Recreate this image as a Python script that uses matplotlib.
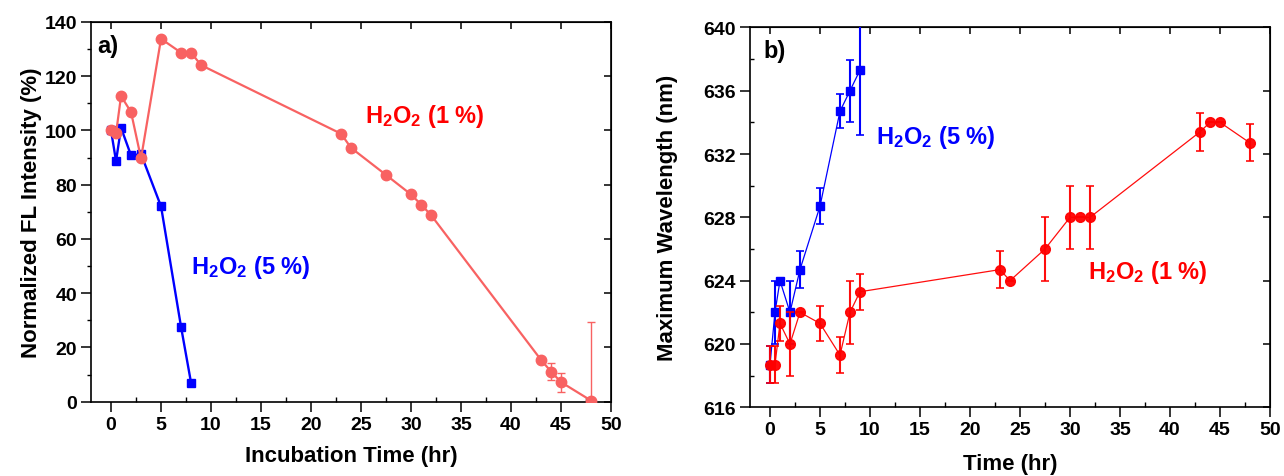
import matplotlib
matplotlib.use("Agg")
import matplotlib.pyplot as plt
from matplotlib.ticker import MultipleLocator

plt.rcParams["font.family"] = ["Liberation Sans", "DejaVu Sans"]
plt.rcParams["font.weight"] = "bold"
plt.rcParams["mathtext.fontset"] = "custom"
plt.rcParams["mathtext.rm"] = "Liberation Sans:bold"
plt.rcParams["mathtext.default"] = "rm"

# Panel a) normalized fluorescence intensity
a_t1 = [0, 0.5, 1, 2, 3, 5, 7, 8, 9, 23, 24, 27.5, 30, 31, 32, 43, 44, 45, 48]
a_y1 = [100, 98.9, 112.7, 106.8, 89.7, 133.8, 128.7, 128.7, 124.1, 98.8, 93.6,
        83.6, 76.4, 72.7, 68.8, 15.4, 11.1, 7.2, 0.4]
a_e1 = [0, 0, 0, 0, 0, 0, 0, 0, 0, 0, 0, 0, 0, 0, 0, 0, 3.0, 3.5, 29.0]
a_t5 = [0, 0.5, 1, 2, 3, 5, 7, 8]
a_y5 = [100, 88.7, 101, 90.8, 91.3, 72, 27.6, 7.0]

# Panel b) maximum emission wavelength
b_t1 = [0, 0.5, 1, 2, 3, 5, 7, 8, 9, 23, 24, 27.5, 30, 31, 32, 43, 44, 45, 48]
b_y1 = [618.7, 618.7, 621.3, 620.0, 622.0, 621.3, 619.3, 622.0, 623.3, 624.7,
        624.0, 626.0, 628.0, 628.0, 628.0, 633.4, 634.0, 634.0, 632.7]
b_e1 = [1.15, 1.15, 1.1, 2.0, 0, 1.1, 1.15, 2.0, 1.15, 1.15,
        0, 2.0, 2.0, 0, 2.0, 1.2, 0, 0, 1.17]
b_t5 = [0, 0.5, 1, 2, 3, 5, 7, 8, 9]
b_y5 = [618.7, 622.0, 624.0, 622.0, 624.7, 628.7, 634.7, 636.0, 637.3]
b_e5 = [1.15, 2.0, 0, 2.0, 1.15, 1.15, 1.07, 1.95, 4.1]

LIGHT_RED = "#f86262"
RED = "#ff0000"
BLUE = "#0000ff"

fig = plt.figure(figsize=(12.84, 4.77), dpi=100)
ax1 = fig.add_axes([0.0709, 0.1558, 0.405, 0.796])
ax2 = fig.add_axes([0.5841, 0.144, 0.405, 0.7965])

ax1.plot(a_t5, a_y5, "-s", color=BLUE, lw=1.7, ms=6, zorder=3)
ax1.errorbar(a_t1, a_y1, yerr=a_e1, fmt="-o", color=LIGHT_RED, lw=1.6, ms=7.5,
             elinewidth=1, capsize=3, capthick=1, zorder=4)
ax1.set_xlim(-2, 50)
ax1.set_ylim(0, 140)
ax1.xaxis.set_major_locator(MultipleLocator(5))
ax1.xaxis.set_minor_locator(MultipleLocator(2.5))
ax1.yaxis.set_major_locator(MultipleLocator(20))
ax1.yaxis.set_minor_locator(MultipleLocator(10))
ax1.set_xlabel("Incubation Time (hr)", fontsize=16, fontweight="bold",
               labelpad=9)
ax1.set_ylabel("Normalized FL Intensity (%)", fontsize=16, fontweight="bold",
               labelpad=2)
ax1.text(0.012, 0.968, "a)", transform=ax1.transAxes, fontsize=17,
         fontweight="bold", va="top")
ax1.text(25.4, 105.5, r"H$_2$O$_2$ (1 %)", color=RED, fontsize=17,
         fontweight="bold", va="center")
ax1.text(8.0, 49.8, r"H$_2$O$_2$ (5 %)", color=BLUE, fontsize=17,
         fontweight="bold", va="center")

ax2.errorbar(b_t5, b_y5, yerr=b_e5, fmt="-s", color=BLUE, lw=0.9, ms=6,
             elinewidth=1.5, capsize=3, capthick=1.2, zorder=3)
ax2.errorbar(b_t1, b_y1, yerr=b_e1, fmt="-o", color=RED, lw=0.9, ms=7,
             elinewidth=1.5, capsize=3, capthick=1.2, alpha=0.95, zorder=4)
ax2.set_xlim(-2, 50)
ax2.set_ylim(616, 640)
ax2.xaxis.set_major_locator(MultipleLocator(5))
ax2.xaxis.set_minor_locator(MultipleLocator(2.5))
ax2.yaxis.set_major_locator(MultipleLocator(4))
ax2.yaxis.set_minor_locator(MultipleLocator(2))
ax2.set_xlabel("Time (hr)", fontsize=16, fontweight="bold", labelpad=11)
ax2.set_ylabel("Maximum Wavelength (nm)", fontsize=16, fontweight="bold",
               labelpad=18)
ax2.text(0.025, 0.97, "b)", transform=ax2.transAxes, fontsize=17,
         fontweight="bold", va="top")
ax2.text(10.6, 633.1, r"H$_2$O$_2$ (5 %)", color=BLUE, fontsize=17,
         fontweight="bold", va="center")
ax2.text(31.8, 624.6, r"H$_2$O$_2$ (1 %)", color=RED, fontsize=17,
         fontweight="bold", va="center")

for ax, ymin_dir in ((ax1, "out"), (ax2, "in")):
    ax.tick_params(which="major", direction="out", length=7, width=1.1,
                   labelsize=14, pad=3)
    ax.tick_params(axis="x", which="minor", direction="in", length=3.5, width=1)
    ax.tick_params(axis="y", which="minor", direction=ymin_dir, length=3,
                   width=1)
    for s in ax.spines.values():
        s.set_linewidth(1.2)
    for lab in ax.get_xticklabels() + ax.get_yticklabels():
        lab.set_fontweight("bold")
    # mirrored major ticks on top and right, pointing inward, no labels
    top = ax.secondary_xaxis("top")
    top.xaxis.set_major_locator(MultipleLocator(5))
    top.tick_params(direction="in", length=5, width=1.1, labeltop=False)
    right = ax.secondary_yaxis("right")
    right.yaxis.set_major_locator(ax.yaxis.get_major_locator())
    right.tick_params(direction="in", length=5, width=1.1, labelright=False)

fig.savefig("out.png", dpi=100)
